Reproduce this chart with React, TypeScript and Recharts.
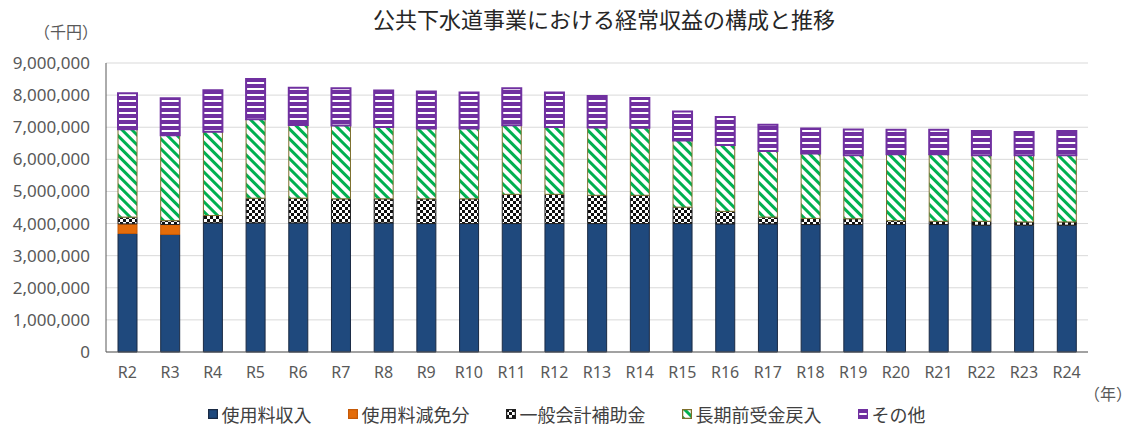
import { Bar, BarChart, CartesianGrid, Legend, XAxis, YAxis } from "recharts";

// 単位：千円
const years = ['R2', 'R3', 'R4', 'R5', 'R6', 'R7', 'R8', 'R9', 'R10', 'R11', 'R12', 'R13', 'R14', 'R15', 'R16', 'R17', 'R18', 'R19', 'R20', 'R21', 'R22', 'R23', 'R24'];

const usageFee = [3690000, 3660000, 4020000, 4020000, 4020000, 4020000, 4020000, 4000000, 4000000, 4000000, 4000000, 4000000, 4000000, 4000000, 3990000, 3990000, 3970000, 3970000, 3970000, 3970000, 3950000, 3950000, 3950000];
const feeExemption = [300000, 310000, 0, 0, 0, 0, 0, 0, 0, 0, 0, 0, 0, 0, 0, 0, 0, 0, 0, 0, 0, 0, 0];
const generalSubsidy = [210000, 120000, 230000, 770000, 770000, 750000, 750000, 770000, 770000, 910000, 910000, 880000, 880000, 510000, 390000, 210000, 190000, 180000, 120000, 100000, 120000, 100000, 100000];
const longTermRevenue = [2740000, 2660000, 2610000, 2460000, 2280000, 2280000, 2240000, 2190000, 2190000, 2150000, 2100000, 2110000, 2100000, 2080000, 2070000, 2060000, 2020000, 1980000, 2070000, 2090000, 2060000, 2080000, 2080000];
const others = [1120000, 1150000, 1290000, 1250000, 1160000, 1160000, 1130000, 1150000, 1120000, 1150000, 1070000, 980000, 930000, 900000, 870000, 820000, 780000, 800000, 760000, 760000, 750000, 720000, 750000];

const yTicks = [0, 1000000, 2000000, 3000000, 4000000, 5000000, 6000000, 7000000, 8000000, 9000000];

const data = years.map((name, i) => ({
  name,
  usageFee: usageFee[i],
  feeExemption: feeExemption[i],
  generalSubsidy: generalSubsidy[i],
  longTermRevenue: longTermRevenue[i],
  others: others[i],
}));

const FONT = "'Noto Sans CJK JP', 'Noto Sans', sans-serif";
const NUM_FONT = "'Noto Sans', sans-serif";

const series = [
  { key: 'usageFee', label: '使用料収入', fill: '#1f497d', stroke: '#1a2a44', strokeWidth: 1 },
  { key: 'feeExemption', label: '使用料減免分', fill: '#e46c0a', stroke: '#c55a08', strokeWidth: 1 },
  { key: 'generalSubsidy', label: '一般会計補助金', fill: 'url(#checker)', stroke: '#222222', strokeWidth: 1 },
  { key: 'longTermRevenue', label: '長期前受金戻入', fill: 'url(#greenStripe)', stroke: '#7d6f2c', strokeWidth: 1 },
  { key: 'others', label: 'その他', fill: 'url(#purpleStripe)', stroke: '#7030a0', strokeWidth: 2 },
];

const fmt = (v: number) => v.toLocaleString('en-US');

const LegendContent = () => (
  <div style={{ display: 'flex', justifyContent: 'center', gap: 36, fontFamily: FONT, fontSize: 18, color: '#404040' }}>
    {series.map((s) => (
      <div key={s.key} style={{ display: 'flex', alignItems: 'center', gap: 4 }}>
        <svg width={10} height={10}>
          <rect x={0.5} y={0.5} width={9} height={9} fill={s.fill} stroke={s.stroke} strokeWidth={1.5} />
        </svg>
        <span>{s.label}</span>
      </div>
    ))}
  </div>
);

function App() {
  return (
    <div style={{ position: 'absolute', left: 0, top: 0 }}>
      <BarChart
        width={1133}
        height={427}
        data={data}
        margin={{ top: 63, right: 45, left: 0, bottom: 45 }}
      >
        <defs>
          <pattern id="checker" width={6} height={6} patternUnits="userSpaceOnUse">
            <rect width={6} height={6} fill="#ffffff" />
            <rect x={0} y={0} width={3} height={3} fill="#111111" />
            <rect x={3} y={3} width={3} height={3} fill="#111111" />
          </pattern>
          <pattern id="greenStripe" width={7} height={7} patternUnits="userSpaceOnUse" patternTransform="rotate(-45)">
            <rect width={7} height={7} fill="#ffffff" />
            <rect x={0} y={0} width={3} height={7} fill="#00b050" />
          </pattern>
          <pattern id="purpleStripe" width={6} height={6} patternUnits="userSpaceOnUse">
            <rect width={6} height={6} fill="#ffffff" />
            <rect x={0} y={0} width={6} height={4} fill="#7030a0" />
          </pattern>
        </defs>
        <text x={604} y={28} textAnchor="middle" fontFamily={FONT} fontSize={22} fill="#262626">
          公共下水道事業における経常収益の構成と推移
        </text>
        <text x={66} y={38} textAnchor="middle" fontFamily={FONT} fontSize={16} fill="#595959">
          （千円）
        </text>
        <text x={1108} y={400} textAnchor="middle" fontFamily={FONT} fontSize={16} fill="#595959">
          （年）
        </text>
        <CartesianGrid vertical={false} stroke="#d9d9d9" />
        <XAxis
          dataKey="name"
          height={30}
          tickLine={false}
          tickSize={0}
          tickMargin={15}
          axisLine={{ stroke: '#595959' }}
          tick={{ fill: '#595959', fontSize: 16, fontFamily: NUM_FONT }}
          interval={0}
        />
        <YAxis
          width={106}
          domain={[0, 9000000]}
          ticks={yTicks}
          tickFormatter={fmt}
          tickLine={false}
          tickSize={0}
          tickMargin={16}
          axisLine={{ stroke: '#595959' }}
          tick={{ fill: '#595959', fontSize: 17, fontFamily: NUM_FONT }}
        />
        <Legend
          layout="horizontal"
          verticalAlign="middle"
          align="center"
          wrapperStyle={{ top: 401, left: 0, width: 1133 }}
          content={LegendContent}
        />
        {series.map((s) => (
          <Bar
            key={s.key}
            dataKey={s.key}
            name={s.label}
            stackId="a"
            barSize={19}
            fill={s.fill}
            stroke={s.stroke}
            strokeWidth={s.strokeWidth}
            isAnimationActive={false}
          />
        ))}
      </BarChart>
    </div>
  );
}

export default App
